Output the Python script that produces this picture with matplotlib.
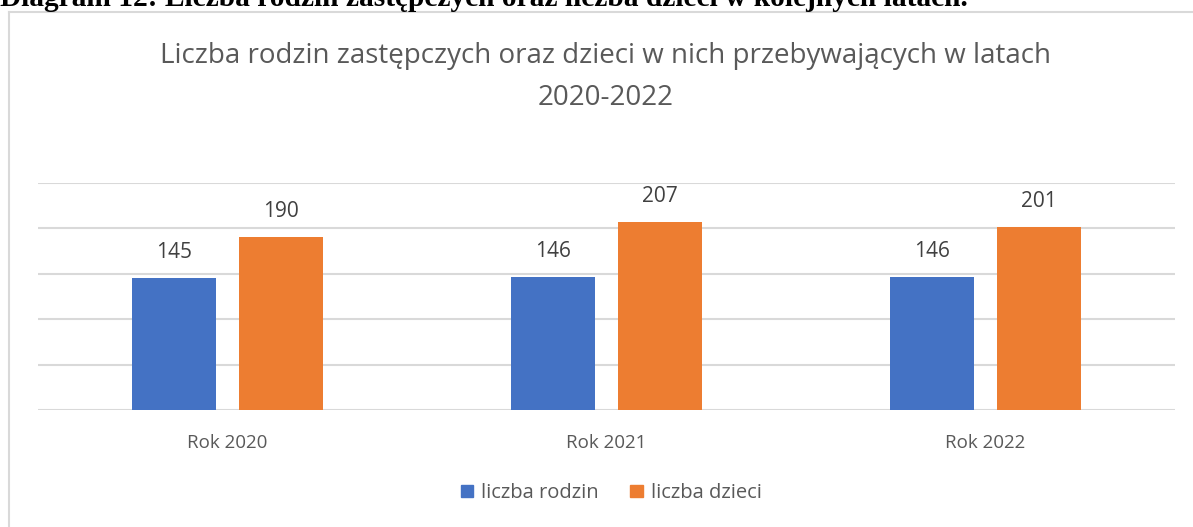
import numpy as np
import matplotlib.pyplot as plt
from matplotlib.patches import Patch
from matplotlib.lines import Line2D

# dane
lata = ["Rok 2020", "Rok 2021", "Rok 2022"]
liczba_rodzin = [145, 146, 146]
liczba_dzieci = [190, 207, 201]

tytul = "Liczba rodzin zastępczych oraz dzieci w nich przebywających w latach\n2020-2022"
podpis = "Diagram 12: Liczba rodzin zastępczych oraz liczba dzieci w kolejnych latach."

niebieski = "#4472C4"
pomaranczowy = "#ED7D31"
szary = "#595959"
siatka = "#D9D9D9"

plt.rcParams["font.family"] = ["Open Sans", "DejaVu Sans"]

fig = plt.figure(figsize=(11.93, 5.27), dpi=100)

# ramka wykresu (lewa i gorna krawedz)
fig.add_artist(Line2D([8.5 / 1193, 8.5 / 1193], [0, 1 - 12 / 527], color=siatka, lw=1.5))
fig.add_artist(Line2D([8.5 / 1193, 1], [1 - 12 / 527, 1 - 12 / 527], color=siatka, lw=1.5))

# podpis nad wykresem, uciety u gory (tak jak w oryginale)
fig.text(0.0, 1 - 6 / 527, podpis, family="Liberation Serif", fontweight="bold",
         fontsize=21.2, color="black", ha="left", va="baseline")

ax = fig.add_axes([38 / 1193, 1 - 410 / 527, (1175 - 38) / 1193, (410 - 183) / 527])

x = np.arange(len(lata))
szer = 0.222
b1 = ax.bar(x - 0.141, liczba_rodzin, szer, color=niebieski, zorder=3)
b2 = ax.bar(x + 0.141, liczba_dzieci, szer, color=pomaranczowy, zorder=3)

for bars in (b1, b2):
    ax.bar_label(bars, padding=11, fontsize=15, color="#404040")

ax.set_xlim(-0.5, 2.5)
ax.set_ylim(0, 250)
ax.set_yticks(np.arange(0, 251, 50))
ax.yaxis.grid(True, color=siatka, lw=1.5, zorder=0)
ax.tick_params(axis="y", left=False, labelleft=False)
ax.tick_params(axis="x", length=0, pad=17, labelsize=13.5, labelcolor=szary)
ax.set_xticks(x)
ax.set_xticklabels(lata)
for s in ax.spines.values():
    s.set_visible(False)

fig.text(606 / 1193, 1 - 77 / 527, tytul, ha="center", va="center", fontsize=20,
         color=szary, linespacing=1.62)

uchwyty = [Patch(color=niebieski, label="liczba rodzin"),
           Patch(color=pomaranczowy, label="liczba dzieci")]
fig.legend(handles=uchwyty, loc="center", bbox_to_anchor=(611 / 1193, 1 - 493 / 527),
           ncol=2, frameon=False, fontsize=14.5, labelcolor=szary,
           handlelength=0.6, handleheight=0.6, handletextpad=0.4, columnspacing=1.6)

fig.savefig("out.png", dpi=100)
